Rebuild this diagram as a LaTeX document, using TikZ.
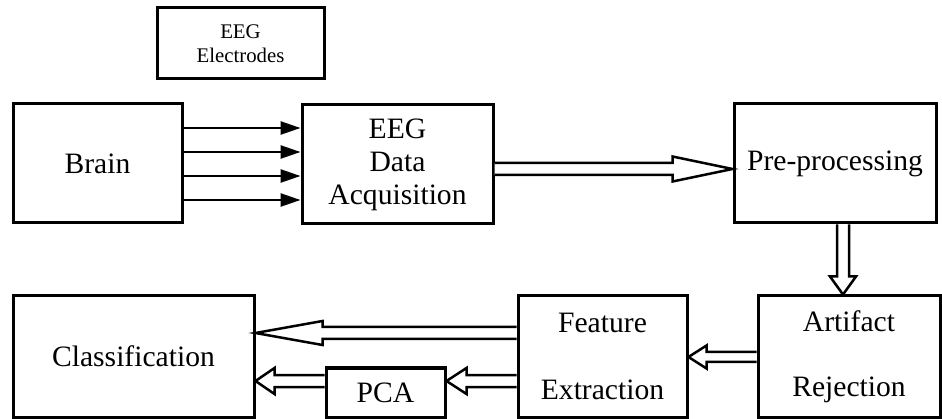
\documentclass[tikz,border=0pt]{standalone}
\usepackage{fontspec}
\setmainfont{Liberation Serif}
\usetikzlibrary{calc,arrows.meta}

% Hollow block arrow: #1 start, #2 tip, #3 shaft half width,
% #4 head half width, #5 head length
\newcommand\hollowarrow[5]{%
  \coordinate (ha-s) at (#1);
  \coordinate (ha-t) at (#2);
  \coordinate (ha-h) at ($(ha-t)!#5!(ha-s)$);
  \draw[blockarrow]
    ($(ha-s)!#3!90:(ha-t)$) -- ($(ha-h)!#3!90:(ha-t)$) --
    ($(ha-h)!#4!90:(ha-t)$) -- (ha-t) --
    ($(ha-h)!#4!-90:(ha-t)$) -- ($(ha-h)!#3!-90:(ha-t)$) --
    ($(ha-s)!#3!-90:(ha-t)$);
}

\tikzset{
  box/.style={draw, line width=3pt, inner sep=0pt, align=center,
    font=\fontsize{29.6}{33}\selectfont},
  blockarrow/.style={draw, fill=white, line width=2.5pt, line join=miter},
  wire/.style={line width=2.5pt, -{Triangle[length=20pt,width=13pt]}}
}

\begin{document}
\begin{tikzpicture}[x=1pt, y=-1pt]
  \useasboundingbox (0,0) rectangle (942,419);

  % blocks
  \node[box, minimum width=167pt, minimum height=71pt,
        font=\fontsize{20.8}{24}\selectfont] (elec) at (240.5,43.5) {EEG\\Electrodes};
  \node[box, minimum width=169pt, minimum height=119pt] (brain) at (97.5,163.5) {Brain};
  \node[box, minimum width=191pt, minimum height=119pt] (da) at (397.5,164.5)
        {EEG\\Data\\Acquisition};
  \node[box, minimum width=202pt, minimum height=119pt] (pre) at (835,163.5) {Pre-processing};
  \node[box, minimum width=182pt, minimum height=121pt,
        font=\fontsize{29.6}{65}\selectfont] (art) at (849,356.5) {Artifact\\Rejection};
  \node[box, minimum width=169pt, minimum height=121pt,
        font=\fontsize{29.6}{67}\selectfont] (fe) at (602.5,356.5) {Feature\\Extraction};
  \node[box, minimum width=241pt, minimum height=121pt] (cls) at (133.5,356.5) {Classification};
  \node[box, minimum width=119pt, minimum height=49pt, text depth=-10pt] (pca) at (385.5,392.5) {PCA};

  % electrode channels from the brain
  \foreach \dy in {35.5,11.5,-12.5,-36.5}
    \draw[wire] ([yshift=\dy pt]brain.east) -- ([yshift=\dy pt]brain.east -| da.west);

  % processing chain
  \hollowarrow{[yshift=-4.5pt]da.east}{[yshift=-4.5pt]da.east -| pre.west}{6pt}{12.5pt}{60pt}
  \coordinate (downs) at ([xshift=8pt]pre.south);
  \coordinate (downt) at (downs |- art.north);
  \hollowarrow{downs}{downt}{6pt}{13pt}{18pt}
  \hollowarrow{[yshift=-0.5pt]art.west}{[yshift=-0.5pt]fe.east}{5pt}{11.5pt}{18pt}
  \hollowarrow{[yshift=23.5pt]fe.west}{[yshift=23.5pt]cls.east}{6pt}{12pt}{67pt}
  \coordinate (pcaline) at ([yshift=-24.5pt]fe.west);
  \hollowarrow{pcaline}{pca.east |- pcaline}{6pt}{13pt}{20pt}
  \hollowarrow{pca.west |- pcaline}{cls.east |- pcaline}{6pt}{13pt}{19pt}
\end{tikzpicture}
\end{document}
